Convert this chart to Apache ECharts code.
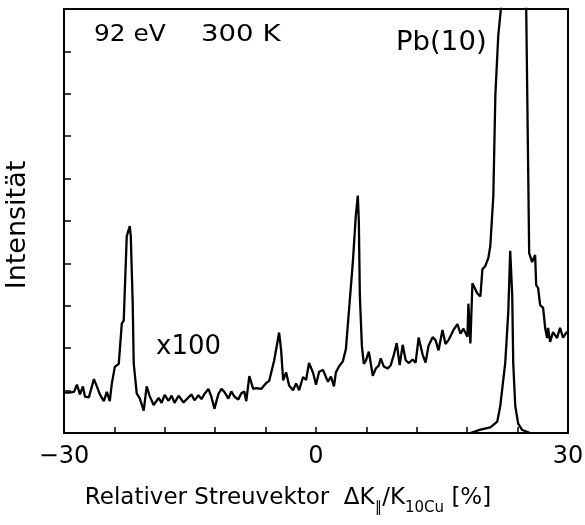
<!DOCTYPE html>
<html><head><meta charset="utf-8">
<script src="https://cdn.jsdelivr.net/npm/echarts@6/dist/echarts.min.js"></script>
<style>html,body{margin:0;padding:0;background:#fff}#c{width:585px;height:525px}</style>
</head><body><div id="c"></div>
<script>
// x100 curve (scaled intensity)
const x100X = [-30,-29.41,-28.81,-28.46,-28.10,-27.75,-27.51,-27.04,-26.44,-26.09,-25.73,-25.26,-24.90,-24.55,-24.31,-23.95,-23.48,-23.12,-22.89,-22.53,-22.17,-22.05,-21.82,-21.70,-21.34,-20.99,-20.51,-20.16,-19.80,-19.33,-18.73,-18.38,-18.02,-17.55,-17.19,-16.84,-16.36,-15.77,-15.18,-14.82,-14.47,-13.99,-13.64,-13.28,-12.81,-12.45,-12.09,-11.62,-11.26,-10.91,-10.43,-10.08,-9.72,-9.25,-8.89,-8.54,-8.30,-7.94,-7.47,-7.11,-6.52,-5.93,-5.57,-4.98,-4.39,-4.15,-3.91,-3.56,-3.20,-2.73,-2.37,-2.01,-1.54,-1.18,-0.83,-0.35,0.00,0.36,0.83,1.42,1.78,2.14,2.37,2.73,3.20,3.56,3.91,4.39,4.74,4.98,5.10,5.22,5.46,5.69,5.93,6.29,6.76,7.12,7.47,7.71,8.06,8.54,8.90,9.25,9.61,9.96,10.32,10.67,11.03,11.50,11.86,12.22,12.69,13.04,13.40,13.88,14.23,14.59,15.06,15.42,15.77,16.37,16.84,17.20,17.55,18.03,18.14,18.38,18.62,19.21,19.57,19.81,20.16,20.52,20.75,21.11,21.35,21.70,22.06,22.18,24.90,25.02,25.38,25.73,26.09,26.21,26.44,26.68,27.04,27.28,27.51,27.63,27.87,28.22,28.70,29.05,29.41,29.88];
const x100Y = [0.95,0.95,0.97,1.14,0.91,1.10,0.86,0.84,1.27,1.10,0.91,0.75,0.97,0.75,1.16,1.56,1.63,2.58,2.65,4.64,4.88,4.64,3.06,1.64,0.93,0.82,0.53,1.10,0.87,0.66,0.83,0.71,0.90,0.76,0.88,0.71,0.88,0.72,0.84,0.91,0.77,0.89,0.80,0.92,1.04,0.85,0.57,0.92,1.04,0.97,0.81,0.98,0.86,0.79,0.94,0.98,0.75,1.34,1.04,1.06,1.04,1.18,1.23,1.71,2.37,1.95,1.24,1.43,1.12,1.01,1.17,1.01,1.32,1.25,1.65,1.42,1.14,1.44,1.49,1.21,1.33,1.10,1.43,1.57,1.69,1.98,2.85,4.04,5.13,5.60,4.99,3.24,2.06,1.63,1.70,1.92,1.35,1.52,1.59,1.76,1.57,1.52,1.60,1.83,2.12,1.60,2.08,1.72,1.65,1.73,1.66,2.25,1.85,1.66,2.06,2.26,2.19,1.95,2.43,2.10,2.19,2.43,2.57,2.34,2.46,2.27,3.05,2.11,3.53,3.29,3.22,3.86,3.94,4.13,4.41,5.59,7.96,9.38,10.1,40,40,10.1,4.24,4.03,4.20,3.49,3.42,3.02,2.95,2.48,2.24,2.48,2.15,2.38,2.24,2.48,2.25,2.39];
// x1 curve (unscaled Pb peak)
const x1X = [18.38,19.57,20.75,21.58,21.94,22.53,22.89,23.12,23.36,23.48,23.72,24.07,24.55,25.50];
const x1Y = [0,0.08,0.13,0.27,0.64,1.66,2.85,4.30,3.24,1.65,0.64,0.22,0.07,0];
const xTickLabels = [-30, 0, 30];

const FONT = '"DejaVu Sans", sans-serif';
const chart = echarts.init(document.getElementById('c'), null, {renderer:'canvas'});
const pairs = (xs, ys) => xs.map((x, i) => [x, ys[i]]);
const txt = (text, left, top, size, sx) => ({
  type: 'text', left: left, top: top, scaleX: sx, scaleY: 1,
  style: {text: text, font: size + 'px ' + FONT, fill: '#000'}
});

chart.setOption({
  animation: false,
  backgroundColor: '#fff',
  grid: {left: 64, right: 17, top: 9, bottom: 92, show: true, borderColor: '#000', borderWidth: 2,
         containLabel: false, outerBoundsMode: 'none'},
  xAxis: {
    type: 'value', min: -30, max: 30, interval: 6,
    axisLine: {show: true, onZero: false, lineStyle: {color: '#000', width: 2}},
    axisTick: {show: true, inside: true, length: 6, lineStyle: {color: '#000', width: 1.5}},
    splitLine: {show: false},
    axisLabel: {
      color: '#000', fontFamily: FONT, fontSize: 24, margin: 12,
      formatter: v => xTickLabels.includes(v) ? String(v).replace('-', '\u2212') : ''
    },
    name: '{n|Relativer Streuvektor  ΔK}{s|∥}{n|/K}{s|10Cu}{n| [%]}',
    nameLocation: 'middle', nameGap: 54,
    nameTextStyle: {
      padding: [0, 56, 0, 0],
      rich: {
        n: {fontFamily: FONT, fontSize: 23, color: '#000'},
        s: {fontFamily: FONT, fontSize: 15, color: '#000', verticalAlign: 'bottom', padding: [0,0,-6,0]}
      }
    }
  },
  yAxis: {
    type: 'value', min: 0, max: 10, interval: 1,
    axisLine: {show: true, onZero: false, lineStyle: {color: '#000', width: 2}},
    axisTick: {show: true, inside: true, length: 7, lineStyle: {color: '#000', width: 1.5}},
    splitLine: {show: false},
    axisLabel: {show: false},
    name: 'Intensität', nameLocation: 'middle', nameGap: 33, nameRotate: 90,
    nameTextStyle: {fontFamily: FONT, fontSize: 27, color: '#000', padding: [0, 8, 0, 0]}
  },
  graphic: [
    txt('92 eV', 94, 24, 23, 1.08),
    txt('300 K', 201, 24, 23, 1.2),
    txt('Pb(10)', 396, 30, 26, 1.06),
    txt('x100', 156, 334, 26, 1.0)
  ],
  series: [
    {type: 'line', data: pairs(x100X, x100Y), showSymbol: false, clip: true,
     lineStyle: {color: '#000', width: 2.3}, z: 3},
    {type: 'line', data: pairs(x1X, x1Y), showSymbol: false, clip: true,
     lineStyle: {color: '#000', width: 2.3}, z: 3}
  ]
});
</script></body></html>
